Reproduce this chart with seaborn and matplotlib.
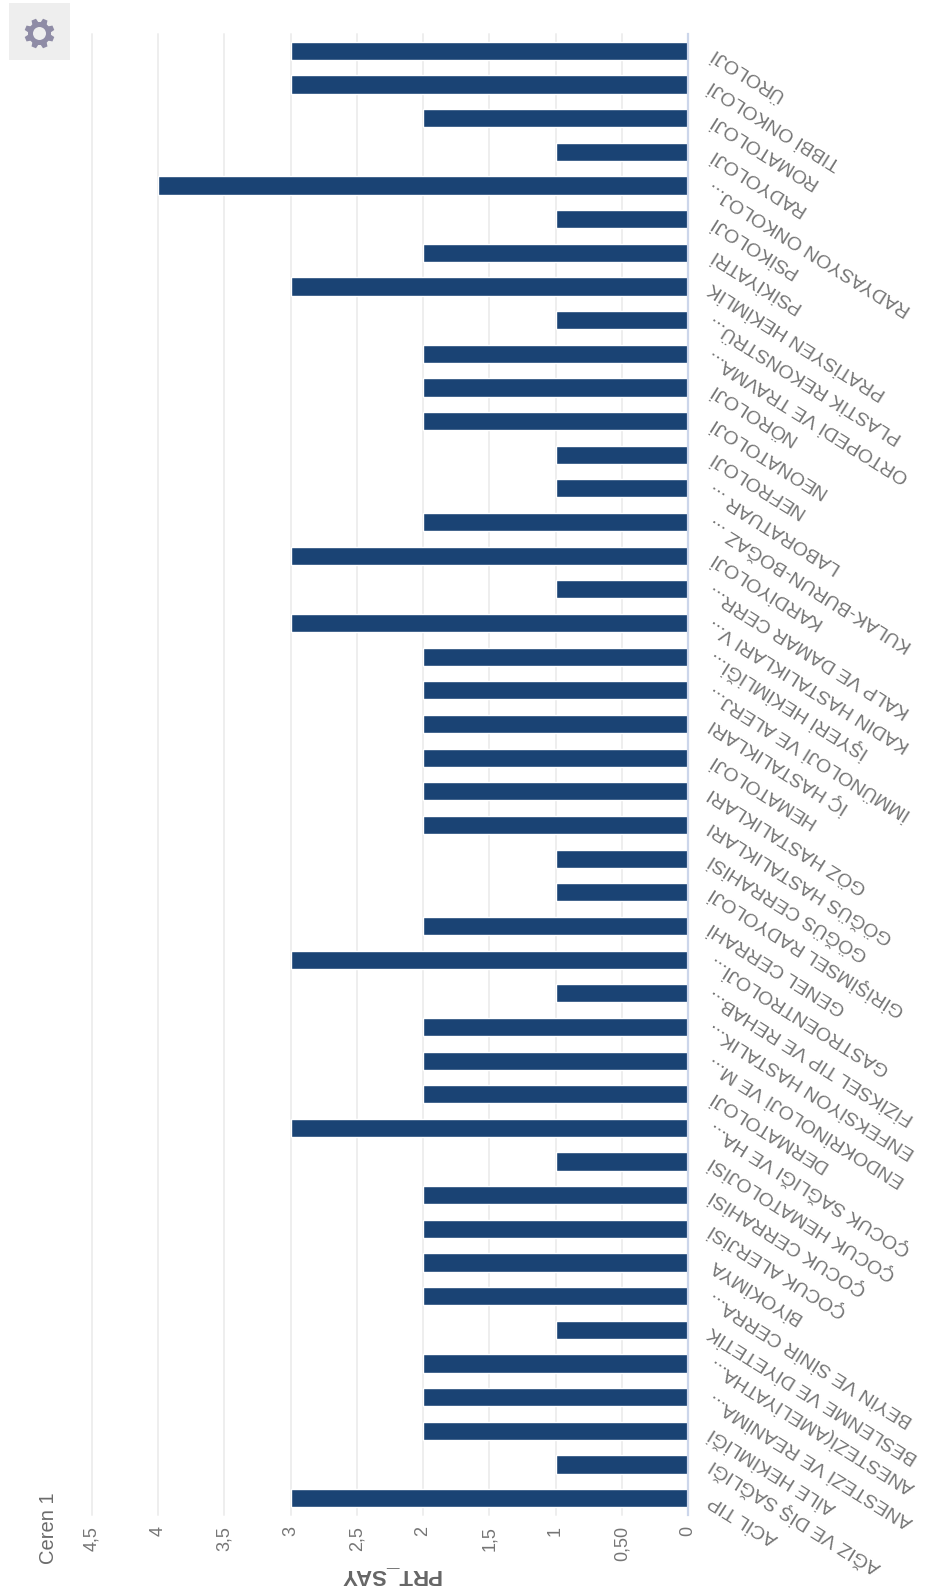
import numpy as np
import pandas as pd
import matplotlib
matplotlib.use("Agg")
import matplotlib.pyplot as plt
from matplotlib.patches import Rectangle, Circle, Polygon
import seaborn as sns

departments = [
    "ÜROLOJİ", "TIBBİ ONKOLOJİ", "ROMATOLOJİ", "RADYOLOJİ", "RADYASYON ONKOLOJ...",
    "PSİKOLOJİ", "PSİKİYATRİ", "PRATİSYEN HEKİMLİK", "PLASTİK REKONSTRÜ...",
    "ORTOPEDİ VE TRAVMA...", "NÖROLOJİ", "NEONATOLOJİ", "NEFROLOJİ", "LABORATUAR ...",
    "KULAK-BURUN-BOĞAZ ...", "KARDİYOLOJİ", "KALP VE DAMAR CERR...",
    "KADIN HASTALIKLARI V...", "İŞYERİ HEKİMLİĞİ...", "İMMÜNOLOJİ VE ALERJ...",
    "İÇ HASTALIKLARI", "HEMATOLOJİ", "GÖZ HASTALIKLARI", "GÖĞÜS HASTALIKLARI",
    "GÖĞÜS CERRAHİSİ", "GİRİŞİMSEL RADYOLOJİ", "GENEL CERRAHİ", "GASTROENTROLOJİ...",
    "FİZİKSEL TIP VE REHAB...", "ENFEKSİYON HASTALIK...", "ENDOKRİNOLOJİ VE M...",
    "DERMATOLOJİ", "ÇOCUK SAĞLIĞI VE HA...", "ÇOCUK HEMATOLOJİSİ", "ÇOCUK CERRAHİSİ",
    "ÇOCUK ALERJİSİ", "BİYOKİMYA", "BEYİN VE SİNİR CERRA...", "BESLENME VE DİYETETİK",
    "ANESTEZİ(AMELİYATHA...", "ANESTEZİ VE REANİMA...", "AİLE HEKİMLİĞİ",
    "AĞIZ VE DİŞ SAĞLIĞI", "ACİL TIP",
]
prt_say = [
    3, 3, 2, 1, 4, 1, 2, 3, 1, 2, 2, 2, 1, 1, 2, 3, 1, 3, 2, 2, 2, 2,
    2, 2, 1, 1, 2, 3, 1, 2, 2, 2, 3, 1, 2, 2, 2, 2, 1, 2, 2, 2, 1, 3,
]
tick_values = [0, 0.5, 1, 1.5, 2, 2.5, 3, 3.5, 4, 4.5]
tick_labels = ["0", "0,50", "1", "1,5", "2", "2,5", "3", "3,5", "4", "4,5"]
axis_title = "PRT_SAY"
chart_title = "Ceren 1"

BAR = "#1a4374"
TEXT = "#757575"
W, H = 925, 1594

sns.set_theme(style="white")
plt.rcParams["font.family"] = ["Liberation Sans", "DejaVu Sans"]

fig = plt.figure(figsize=(W / 100, H / 100), dpi=100, facecolor="white")
left, right, top, bottom = 92, 688, 34, 1515
ax = fig.add_axes([left / W, 1 - bottom / H, (right - left) / W, (bottom - top) / H])

frame = pd.DataFrame({"department": departments, "prt_say": prt_say})
sns.barplot(data=frame, y="department", x="prt_say", orient="h", order=departments,
            color=BAR, saturation=1, width=0.54, ax=ax, zorder=3)

ax.set_xlim(4.5, 0)
ax.set_ylim(len(departments) - 0.5, -0.5)

# Value axis: light gridlines, labels running upward below the plot
ax.set_xticks(tick_values)
ax.set_xticklabels(tick_labels, rotation=90, va="top", ha="center",
                   fontsize=13, color=TEXT)
ax.grid(axis="x", color="#eeeeee", lw=1.4, zorder=0)
for line in ax.get_xgridlines():
    line.set_clip_on(False)
ax.tick_params(axis="x", length=0, pad=8)
ax.set_xlabel(axis_title, rotation=180, fontsize=16, fontweight="bold",
              color="#666666", labelpad=3)

# Category axis on the right, with slanted upside-down labels
ax.set_ylabel("")
ax.yaxis.tick_right()
ax.tick_params(axis="y", length=0, pad=16)
ax.set_yticks(range(len(departments)))
ax.set_yticklabels(departments, fontsize=14, color=TEXT)
for label in ax.get_yticklabels():
    label.set_rotation(148)
    label.set_rotation_mode("anchor")
    label.set_ha("right")
    label.set_va("center")

for side in ("top", "bottom", "left"):
    ax.spines[side].set_visible(False)
ax.spines["right"].set_color("#ccd6eb")
ax.spines["right"].set_linewidth(1.6)
ax.spines["right"].set_zorder(4)

fig.text(49 / W, 1 - 1528 / H, chart_title, rotation=90, ha="center", va="center",
         fontsize=14.5, color="#6b6b6b")

# Settings button in the corner, drawn on a pixel-scaled overlay
overlay = fig.add_axes([0, 0, 1, 1], facecolor="none")
overlay.set_xlim(0, W)
overlay.set_ylim(H, 0)
overlay.axis("off")
overlay.add_patch(Rectangle((9, 3), 61, 57, fc="#eeeeee", ec="none"))
cx, cy = 39.5, 33.5
gear = "#8f8ca6"
overlay.add_patch(Circle((cx, cy), 11.5, fc=gear, ec="none"))
for a in np.deg2rad(np.arange(0, 360, 45) + 22.5):
    u = np.array([np.cos(a), np.sin(a)])
    v = np.array([-u[1], u[0]])
    c = np.array([cx, cy])
    overlay.add_patch(Polygon([c + 10 * u + 3.4 * v, c + 15 * u + 2.4 * v,
                               c + 15 * u - 2.4 * v, c + 10 * u - 3.4 * v],
                              fc=gear, ec="none"))
overlay.add_patch(Circle((cx, cy), 6.5, fc="#eeeeee", ec="none"))

fig.savefig("out.png", dpi=100)
